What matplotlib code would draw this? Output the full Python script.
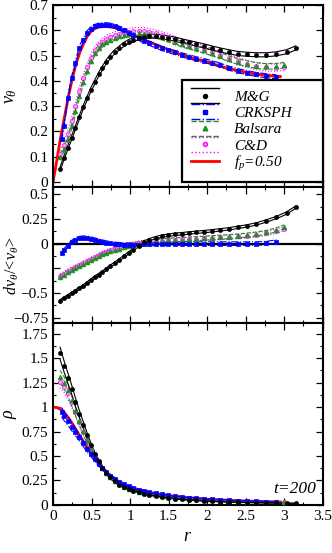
import numpy as np
import matplotlib
matplotlib.use("Agg")
import matplotlib.pyplot as plt
from matplotlib.legend_handler import HandlerBase
from matplotlib.lines import Line2D
from matplotlib.ticker import MultipleLocator, AutoMinorLocator, FuncFormatter

plt.rcParams["font.family"] = ["Liberation Serif", "DejaVu Serif"]
plt.rcParams["mathtext.fontset"] = "custom"
plt.rcParams["mathtext.rm"] = "Liberation Serif"
plt.rcParams["mathtext.it"] = "Liberation Serif:italic"

# ── radial bins ───────────────────────────────────────────────────────────────
R_MG = [0.09, 0.14, 0.19, 0.24, 0.29, 0.34, 0.39, 0.44, 0.49, 0.54,
        0.59, 0.64, 0.69, 0.74, 0.80, 0.86, 0.92, 0.98, 1.04, 1.11,
        1.18, 1.25, 1.33, 1.41, 1.49, 1.58, 1.67, 1.76, 1.86, 1.96,
        2.06, 2.17, 2.28, 2.40, 2.52, 2.64, 2.77, 2.90, 3.03, 3.15]
R_CRK = [0.11] + R_MG[1:38]
R_BAL = R_MG[:38] + [3.00]
R_CD = R_BAL
R_FP = [0.0, 0.05, 0.1, 0.15, 0.2, 0.25, 0.3, 0.35, 0.4, 0.45, 0.5, 0.55, 0.6,
        0.7, 0.8, 0.9, 1.0, 1.2, 1.4, 1.6, 1.8, 2.0, 2.2, 2.4, 2.6, 2.8, 2.95]

# ── v_theta ───────────────────────────────────────────────────────────────────
VT_MG = [0.05, 0.095, 0.135, 0.175, 0.215, 0.255, 0.295, 0.33, 0.365, 0.395,
         0.425, 0.45, 0.475, 0.495, 0.515, 0.53, 0.545, 0.555, 0.563, 0.570,
         0.575, 0.577, 0.576, 0.574, 0.570, 0.565, 0.558, 0.552, 0.545, 0.538,
         0.530, 0.522, 0.515, 0.508, 0.505, 0.503, 0.503, 0.507, 0.515, 0.53]
VT_CRK = [0.17, 0.22, 0.33, 0.41, 0.47, 0.53, 0.56, 0.59, 0.605, 0.615,
          0.62, 0.622, 0.622, 0.62, 0.615, 0.608, 0.60, 0.59, 0.58, 0.568,
          0.557, 0.548, 0.538, 0.528, 0.52, 0.512, 0.503, 0.495, 0.487, 0.48,
          0.472, 0.462, 0.45, 0.44, 0.432, 0.425, 0.42, 0.416]
VT_BAL = [0.10, 0.13, 0.17, 0.22, 0.28, 0.34, 0.395, 0.44, 0.48, 0.51,
          0.53, 0.545, 0.555, 0.563, 0.57, 0.576, 0.58, 0.584, 0.587, 0.588,
          0.587, 0.585, 0.58, 0.573, 0.565, 0.555, 0.545, 0.537, 0.528, 0.52,
          0.51, 0.50, 0.488, 0.476, 0.468, 0.46, 0.457, 0.458, 0.462]
VT_CD = [0.11, 0.145, 0.19, 0.24, 0.30, 0.36, 0.41, 0.455, 0.49, 0.52,
         0.54, 0.555, 0.565, 0.573, 0.58, 0.586, 0.59, 0.594, 0.596, 0.597,
         0.596, 0.593, 0.588, 0.58, 0.572, 0.562, 0.552, 0.543, 0.533, 0.524,
         0.514, 0.503, 0.49, 0.477, 0.467, 0.458, 0.453, 0.452, 0.455]
VT_FP = [0.0, 0.09, 0.18, 0.26, 0.34, 0.41, 0.47, 0.515, 0.55, 0.58, 0.597,
         0.608, 0.613, 0.615, 0.61, 0.6, 0.585, 0.56, 0.535, 0.51, 0.49, 0.475,
         0.455, 0.44, 0.428, 0.42, 0.417]

# ── dv_theta / <v_theta> ──────────────────────────────────────────────────────
D_MG = [-0.58, -0.555, -0.53, -0.505, -0.48, -0.455, -0.43, -0.40, -0.37, -0.34,
        -0.315, -0.29, -0.26, -0.23, -0.20, -0.165, -0.13, -0.095, -0.06, -0.02,
        0.015, 0.04, 0.06, 0.075, 0.085, 0.095, 0.10, 0.108, 0.115, 0.122,
        0.13, 0.14, 0.15, 0.165, 0.18, 0.20, 0.23, 0.265, 0.31, 0.37]
D_CRK = [-0.10, -0.07, -0.025, 0.015, 0.04, 0.055, 0.06, 0.058, 0.05, 0.04,
         0.03, 0.02, 0.01, 0.003, -0.003, -0.007, -0.01, -0.012, -0.012, -0.01,
         -0.008, -0.005, -0.003, -0.002, -0.001, 0.0, 0.0, 0.0, 0.0, 0.0,
         0.0, 0.0, 0.0, 0.0, 0.0, 0.0, 0.005, 0.02]
D_BAL = [-0.34, -0.315, -0.29, -0.27, -0.25, -0.23, -0.21, -0.19, -0.17, -0.15,
         -0.13, -0.11, -0.095, -0.08, -0.065, -0.05, -0.035, -0.02, -0.01, 0.0,
         0.01, 0.017, 0.023, 0.028, 0.033, 0.037, 0.041, 0.045, 0.05, 0.055,
         0.06, 0.065, 0.07, 0.078, 0.087, 0.098, 0.115, 0.14, 0.17]
D_CD = [-0.33, -0.305, -0.28, -0.26, -0.24, -0.22, -0.20, -0.18, -0.16, -0.14,
        -0.12, -0.10, -0.085, -0.07, -0.055, -0.04, -0.027, -0.015, -0.005, 0.005,
        0.013, 0.02, 0.025, 0.03, 0.034, 0.038, 0.042, 0.046, 0.05, 0.054,
        0.058, 0.062, 0.067, 0.073, 0.08, 0.09, 0.105, 0.125, 0.15]

# ── density ───────────────────────────────────────────────────────────────────
RHO_MG = [1.55, 1.42, 1.30, 1.18, 1.05, 0.93, 0.82, 0.71, 0.61, 0.52,
          0.445, 0.38, 0.325, 0.28, 0.24, 0.205, 0.18, 0.16, 0.145, 0.13,
          0.115, 0.10, 0.09, 0.08, 0.07, 0.063, 0.056, 0.05, 0.045, 0.04,
          0.036, 0.032, 0.029, 0.026, 0.024, 0.022, 0.02, 0.019, 0.018, 0.017]
RHO_CRK = [0.95, 0.91, 0.86, 0.80, 0.745, 0.69, 0.63, 0.57, 0.52, 0.47,
           0.42, 0.375, 0.335, 0.30, 0.265, 0.235, 0.21, 0.19, 0.172, 0.155,
           0.14, 0.128, 0.117, 0.107, 0.098, 0.09, 0.082, 0.075, 0.068, 0.062,
           0.057, 0.052, 0.048, 0.044, 0.04, 0.037, 0.034, 0.031]
RHO_BAL = [1.31, 1.25, 1.17, 1.07, 0.96, 0.86, 0.76, 0.665, 0.58, 0.505,
           0.44, 0.38, 0.33, 0.285, 0.245, 0.21, 0.185, 0.165, 0.15, 0.135,
           0.122, 0.11, 0.10, 0.09, 0.082, 0.075, 0.068, 0.062, 0.056, 0.051,
           0.047, 0.043, 0.04, 0.037, 0.034, 0.031, 0.029, 0.027, 0.026]
RHO_CD = [1.26, 1.21, 1.14, 1.05, 0.95, 0.85, 0.75, 0.655, 0.57, 0.50,
          0.435, 0.377, 0.328, 0.283, 0.243, 0.209, 0.184, 0.164, 0.149, 0.134,
          0.121, 0.109, 0.099, 0.089, 0.081, 0.074, 0.067, 0.061, 0.055, 0.05,
          0.046, 0.042, 0.039, 0.036, 0.033, 0.03, 0.028, 0.026, 0.025]
RHO_FP = [1.0, 0.995, 0.975, 0.94, 0.89, 0.83, 0.765, 0.70, 0.635, 0.575, 0.515,
          0.46, 0.41, 0.33, 0.265, 0.215, 0.18, 0.135, 0.105, 0.085, 0.07, 0.058,
          0.05, 0.043, 0.037, 0.033, 0.03]

# band half widths (v, dv, relative rho) per method
BAND_VT = [0.008, 0.008, 0.011, 0.014]
BAND_D = [0.012, 0.018, 0.02, 0.022]
BAND_RHO = [0.04, 0.05, 0.05, 0.05]

LABELS = ["M&G", "CRKSPH", "Balsara", "C&D"]
STYLES = [
    dict(color="black", ls="-", marker="o", ms=2.9, mfc="black"),
    dict(color="#0000ff", ls="-.", marker="s", ms=3.1, mfc="#0000ff"),
    dict(color="#1f8f1f", ls="--", marker="^", ms=3.4, mfc="#1f8f1f"),
    dict(color="#ff00ff", ls=":", marker="o", ms=2.9, mfc="#ff99ff"),
]
RED = "#ff0000"


class BandKey:
    def __init__(self, style):
        self.style = style


class BandHandler(HandlerBase):
    """line / marker / line stacked, like the Tecplot legend"""
    def create_artists(self, legend, h, xd, yd, w, hgt, fs, trans):
        s = h.style
        x0, x1, y0 = -xd, -xd + w, -yd
        top = Line2D([x0, x1], [y0 + hgt * 1.05] * 2, color=s["color"], ls=s["ls"], lw=1.0)
        bot = Line2D([x0, x1], [y0 - hgt * 0.05] * 2, color=s["color"], ls=s["ls"], lw=1.0)
        mid = Line2D([(x0 + x1) / 2], [y0 + hgt / 2], ls="none", marker=s["marker"],
                     ms=s["ms"], mfc=s["mfc"], mec=s["color"])
        arts = [top, bot, mid]
        for a in arts:
            a.set_transform(trans)
        return arts


def draw_method(ax, r, y, lo, hi, style):
    ax.plot(r, lo, color=style["color"], ls=style["ls"], lw=0.8, zorder=3)
    ax.plot(r, hi, color=style["color"], ls=style["ls"], lw=0.8, zorder=3)
    ax.plot(r, y, ls="none", marker=style["marker"], ms=style["ms"],
            mfc=style["mfc"], mec=style["color"], mew=0.5, zorder=4)


def fmt(v, _):
    s = f"{round(v, 3):g}"
    return "0" if s in ("0", "-0") else s.replace("-", "\u2212")


fig = plt.figure(figsize=(3.32, 5.53), dpi=100)
gs = fig.add_gridspec(3, 1, height_ratios=[182, 136, 182], hspace=0,
                      left=0.16, right=0.972, top=0.991, bottom=0.087)
ax1 = fig.add_subplot(gs[0])
ax2 = fig.add_subplot(gs[1], sharex=ax1)
ax3 = fig.add_subplot(gs[2], sharex=ax1)

rs = [R_MG, R_CRK, R_BAL, R_CD]
vts = [VT_MG, VT_CRK, VT_BAL, VT_CD]
ds = [D_MG, D_CRK, D_BAL, D_CD]
rhos = [RHO_MG, RHO_CRK, RHO_BAL, RHO_CD]

# ── top: v_theta ─────────────────────────────────────────────────────────────
ax1.plot(R_FP, VT_FP, color=RED, lw=2.0, zorder=2)
for i in [3, 2, 1, 0]:
    y = np.array(vts[i])
    draw_method(ax1, rs[i], y, y - BAND_VT[i], y + BAND_VT[i], STYLES[i])

# ── middle: dv/<v> ───────────────────────────────────────────────────────────
ax2.axhline(0, color="black", lw=1.6, zorder=1)
for i in [3, 2, 1, 0]:
    y = np.array(ds[i])
    draw_method(ax2, rs[i], y, y - BAND_D[i], y + BAND_D[i], STYLES[i])

# ── bottom: rho ──────────────────────────────────────────────────────────────
ax3.plot(R_FP, RHO_FP, color=RED, lw=2.0, zorder=2)
for i in [3, 2, 1, 0]:
    y = np.array(rhos[i])
    draw_method(ax3, rs[i], y, y * (1 - BAND_RHO[i]), y * (1 + BAND_RHO[i]), STYLES[i])
ax3.text(0.975, 0.09, "t=200", transform=ax3.transAxes, ha="right", va="center",
         fontsize=12.5, style="italic")

ax1.set_ylim(-0.02, 0.7)
ax2.set_ylim(-0.805, 0.575)
ax3.set_ylim(0, 1.86)
ax3.set_xlim(0, 3.5)

ax1.yaxis.set_major_locator(MultipleLocator(0.1))
ax2.set_yticks([-0.75, -0.5, -0.25, 0, 0.25, 0.5])
ax2.set_yticklabels(["\u22120.75", "\u22120.5", "", "0", "0.25", "0.5"])
ax3.yaxis.set_major_locator(MultipleLocator(0.25))
ax3.xaxis.set_major_locator(MultipleLocator(0.5))
ax1.yaxis.set_major_formatter(FuncFormatter(fmt))
ax3.yaxis.set_major_formatter(FuncFormatter(fmt))
ax3.xaxis.set_major_formatter(FuncFormatter(fmt))

for ax in (ax1, ax2, ax3):
    ax.xaxis.set_minor_locator(AutoMinorLocator(2))
    ax.yaxis.set_minor_locator(AutoMinorLocator(2))
    ax.tick_params(which="both", direction="in", top=True, right=True, labelsize=11)
    ax.tick_params(which="major", length=5, width=0.9)
    ax.tick_params(which="minor", length=2.5, width=0.8)
    for sp in ax.spines.values():
        sp.set_linewidth(1.5)
    ax.yaxis.set_label_coords(-0.125, 0.5)
for ax in (ax1, ax2):
    ax.tick_params(labelbottom=False)

ax1.set_ylabel(r"$v_\theta$", fontsize=13)
ax2.set_ylabel(r"$dv_\theta/\!<\!v_\theta\!>$", fontsize=11.5)
ax3.set_ylabel(r"$\rho$", fontsize=13)
ax2.yaxis.set_label_coords(-0.12, 0.42)
ax3.set_xlabel(r"$r$", fontsize=13, labelpad=4)

handles = [BandKey(s) for s in STYLES] + [Line2D([], [], color=RED, lw=2.0)]
labels = LABELS + [r"$f_p$=0.50"]
leg = ax1.legend(handles, labels, handler_map={BandKey: BandHandler()},
                 loc="lower left", bbox_to_anchor=(0.478, 0.027, 0.522, 0.55),
                 mode="expand", borderaxespad=0, fancybox=False, framealpha=1,
                 edgecolor="black", prop=dict(size=11, style="italic"),
                 handlelength=1.8, handleheight=1.0, handletextpad=1.0,
                 labelspacing=0.08, borderpad=0.6)
leg.get_frame().set_linewidth(1.6)
leg.set_zorder(10)

fig.savefig("out.png", dpi=100)
